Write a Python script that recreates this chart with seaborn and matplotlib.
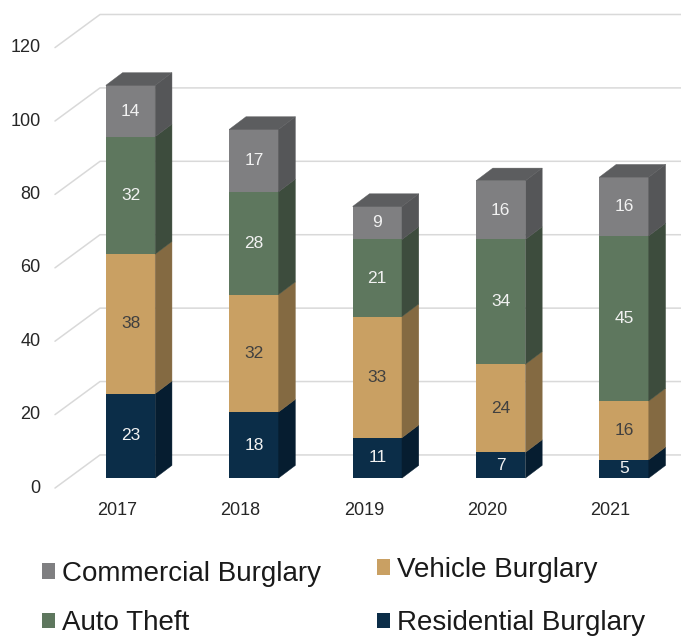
import matplotlib
matplotlib.use("Agg")
import numpy as np
import seaborn as sns
import matplotlib.pyplot as plt
from matplotlib.patches import Polygon, Patch

# --- data ---
years = ["2017", "2018", "2019", "2020", "2021"]
residential = [23, 18, 11, 7, 5]
vehicle = [38, 32, 33, 24, 16]
auto_theft = [32, 28, 21, 34, 45]
commercial = [14, 17, 9, 16, 16]
y_ticks = [0, 20, 40, 60, 80, 100, 120]

# stacked bottom -> top: name, values, front colour, side colour, label colour
series = [
    ("Residential Burglary", residential, "#0b2d48", "#061d30", "#f2f2f2"),
    ("Vehicle Burglary", vehicle, "#c9a063", "#846a42", "#404040"),
    ("Auto Theft", auto_theft, "#5e775e", "#3d4c3d", "#f2f2f2"),
    ("Commercial Burglary", commercial, "#7f7f81", "#555658", "#f2f2f2"),
]
top_colour = "#5c5d5f"

# fake 3D geometry (category units / value units)
DX, DY = 0.136, 3.45          # bar depth
WALL_X0, WALL_X1 = -0.612, -0.247
FRONT_DY, BACK_DY = -2.72, 6.3
XMIN, XMAX = -1.0575, 4.461
YMIN, YMAX = -43.3, 130.25

sns.set_style("white")
plt.rcParams["font.family"] = ["Liberation Sans", "DejaVu Sans"]

fig = plt.figure(figsize=(6.81, 6.37), dpi=100)
ax = fig.add_axes([0, 0, 1, 1])

# floor / back wall gridlines and y labels
for t in y_ticks:
    ax.plot([WALL_X0, WALL_X1, XMAX], [t + FRONT_DY, t + BACK_DY, t + BACK_DY],
            color="#d9d9d9", lw=1.1, zorder=0)
    ax.text(-0.729, t + FRONT_DY, str(t), ha="right", va="center",
            fontsize=13, color="#262626")

# front faces: cumulative totals drawn top series first
cum = np.cumsum([s[1] for s in series], axis=0)
for i in reversed(range(len(series))):
    sns.barplot(x=years, y=cum[i], color=series[i][2], width=0.4, saturation=1,
                errorbar=None, linewidth=0, ax=ax, zorder=1)

bars = ax.patches[:len(years)]

# side faces, top faces and value labels
for i, (name, vals, front, side, tc) in enumerate(series):
    bottoms = cum[i] - np.array(vals)
    for j, bar in enumerate(bars):
        xl = bar.get_x()
        xr = xl + bar.get_width()
        b, t = bottoms[j], cum[i][j]
        ax.add_patch(Polygon([(xr, b), (xr + DX, b + DY), (xr + DX, t + DY), (xr, t)],
                             closed=True, fc=side, ec=side, lw=0.3, zorder=1))
        if i == len(series) - 1:
            ax.add_patch(Polygon([(xl, t), (xl + DX, t + DY), (xr + DX, t + DY), (xr, t)],
                                 closed=True, fc=top_colour, ec=top_colour, lw=0.3, zorder=1))
        ax.text((xl + xr) / 2, (b + t) / 2, str(vals[j]), ha="center", va="center",
                fontsize=12.5, color=tc, zorder=3)

# x labels sit on the front floor edge
for j, bar in enumerate(bars):
    cx = bar.get_x() + bar.get_width() / 2
    ax.text(cx - 0.109, -8.7, years[j], ha="center", va="center",
            fontsize=13, color="#262626")

ax.set_xlim(XMIN, XMAX)
ax.set_ylim(YMIN, YMAX)
ax.set_axis_off()

# legend in two columns
handles = {s[0]: Patch(facecolor=s[2], edgecolor="none", label=s[0]) for s in series}
leg_kw = dict(loc="upper left", frameon=False, fontsize=20, handlelength=0.48,
              handleheight=0.48, handletextpad=0.24,
              borderpad=0, borderaxespad=0, labelcolor="#1a1a1a")
fig.legend(handles=[handles["Commercial Burglary"], handles["Auto Theft"]],
           bbox_to_anchor=(0.0612, 0.1195), labelspacing=0.85, **leg_kw)
fig.legend(handles=[handles["Vehicle Burglary"], handles["Residential Burglary"]],
           bbox_to_anchor=(0.553, 0.1257), labelspacing=0.98, **leg_kw)

fig.savefig("out.png", dpi=100)
